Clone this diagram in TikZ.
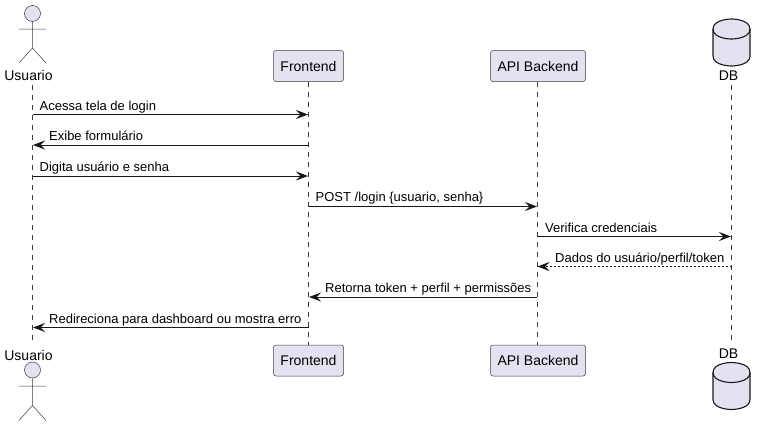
\documentclass[tikz,border=0pt]{standalone}
\usepackage{fontspec}
\setmainfont{Liberation Sans}
\usetikzlibrary{arrows.meta}
\definecolor{pfill}{HTML}{E2E2F0}
\definecolor{pline}{HTML}{181818}
\tikzset{
  x=1pt,y=-1pt,
  part/.style={draw=pline!85!white,line width=0.5pt,fill=pfill,rounded corners=2.5pt,minimum height=31pt,inner sep=0pt,font=\fontsize{14}{16}\selectfont,text=black},
  plabel/.style={inner sep=0pt,font=\fontsize{14}{16}\selectfont,text=black},
  life/.style={draw=pline!85!white,line width=0.5pt,dash pattern=on 5pt off 5pt},
  msg/.style={draw=pline,line width=1pt,-{Stealth[length=12pt,width=9pt,inset=4.5pt,color=pline]}},
  msgret/.style={msg,dash pattern=on 2pt off 2pt},
  mtext/.style={anchor=base west,inner sep=0pt,font=\fontsize{13}{15}\selectfont,text=black},
  actorline/.style={draw=pline!85!white,line width=0.5pt},
  dbline/.style={draw=pline,line width=1.1pt},
}
\begin{document}
\begin{tikzpicture}
\useasboundingbox (0,0) rectangle (765,426);
% lifeline ends
\coordinate (uT) at (32.5,85); \coordinate (uB) at (32.5,345);
\coordinate (fT) at (308.5,81.5); \coordinate (fB) at (308.5,345);
\coordinate (aT) at (537.5,81.5); \coordinate (aB) at (537.5,345);
\coordinate (dT) at (731.5,85); \coordinate (dB) at (731.5,345);
\draw[life] (uT) -- (uB);
\draw[life] (fT) -- (fB);
\draw[life] (aT) -- (aB);
\draw[life] (dT) -- (dB);
% participants
\node[part,minimum width=70pt] (fA) at (308.5,66) {Frontend};
\node[part,minimum width=70pt] (fZ) at (308.5,360.5) {Frontend};
\node[part,minimum width=95pt] (aA) at (538,66) {API Backend};
\node[part,minimum width=95pt] (aZ) at (538,360.5) {API Backend};
% actors
\node[plabel] (uA) at (28.5,75.5) {Usuario};
\node[plabel] (uZ) at (28.5,355) {Usuario};
\draw[actorline,fill=pfill] (32.5,13.5) circle (8);
\draw[actorline] (32.5,21.5) -- (32.5,48) (19,29) -- (46,29) (19,63) -- (32.5,48) -- (46,63);
\draw[actorline,fill=pfill] (32.5,370) circle (8);
\draw[actorline] (32.5,378) -- (32.5,405.5) (19,386) -- (46,386) (19,420.5) -- (32.5,405.5) -- (46,420.5);
% databases
\node[plabel] (dA) at (728.5,75.5) {DB};
\node[plabel] (dZ) at (728.5,353.5) {DB};
\draw[dbline,fill=pfill] (713,29) .. controls (713,19) and (731.5,19) .. (731.5,19) .. controls (731.5,19) and (750,19) .. (750,29) -- (750,56) .. controls (750,66) and (731.5,66) .. (731.5,66) .. controls (731.5,66) and (713,66) .. (713,56) -- cycle;
\draw[dbline] (713,29) .. controls (713,39) and (731.5,39) .. (731.5,39) .. controls (731.5,39) and (750,39) .. (750,29);
\draw[dbline,fill=pfill] (713,372.5) .. controls (713,362.5) and (731.5,362.5) .. (731.5,362.5) .. controls (731.5,362.5) and (750,362.5) .. (750,372.5) -- (750,399.5) .. controls (750,409.5) and (731.5,409.5) .. (731.5,409.5) .. controls (731.5,409.5) and (713,409.5) .. (713,399.5) -- cycle;
\draw[dbline] (713,372.5) .. controls (713,382.5) and (731.5,382.5) .. (731.5,382.5) .. controls (731.5,382.5) and (750,382.5) .. (750,372.5);
% message anchors
\coordinate (u1) at (32.5,114.5); \coordinate (f1) at (308,114.5);
\coordinate (f2) at (308.5,145); \coordinate (u2) at (33,145);
\coordinate (u3) at (32.5,176); \coordinate (f3) at (308,176);
\coordinate (f4) at (308.5,206.5); \coordinate (a4) at (537,206.5);
\coordinate (a5) at (537,236.5); \coordinate (d5) at (731,236.5);
\coordinate (d6) at (731.5,266.5); \coordinate (a6) at (537.5,266.5);
\coordinate (a7) at (537,297); \coordinate (f7) at (309,297);
\coordinate (f8) at (308.5,327.5); \coordinate (u8) at (33,327.5);
\draw[msg] (u1) -- (f1);
\draw[msg] (f2) -- (u2);
\draw[msg] (u3) -- (f3);
\draw[msg] (f4) -- (a4);
\draw[msg] (a5) -- (d5);
\draw[msgret] (d6) -- (a6);
\draw[msg] (a7) -- (f7);
\draw[msg] (f8) -- (u8);
\node[mtext] (t1) at (39.5,110) {Acessa tela de login};
\node[mtext] (t2) at (49,140) {Exibe formulário};
\node[mtext] (t3) at (39.5,171.5) {Digita usuário e senha};
\node[mtext] (t4) at (315.5,201.5) {POST /login \{usuario, senha\}};
\node[mtext] (t5) at (545,232) {Verifica credenciais};
\node[mtext] (t6) at (555,262) {Dados do usuário/perfil/token};
\node[mtext] (t7) at (325,292.5) {Retorna token + perfil + permissões};
\node[mtext] (t8) at (49,323) {Redireciona para dashboard ou mostra erro};
\end{tikzpicture}
\end{document}
